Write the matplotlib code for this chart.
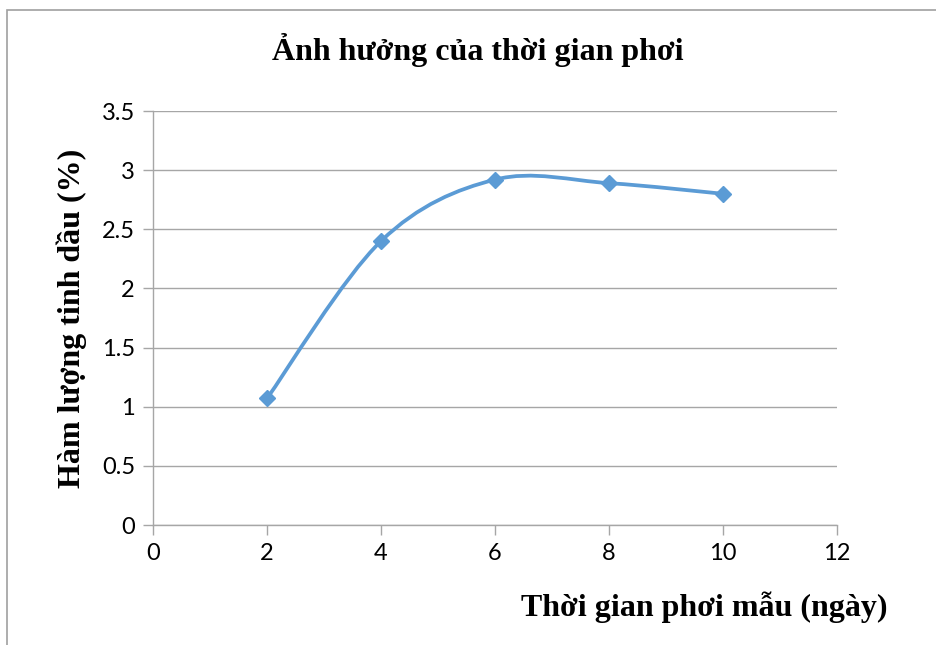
import matplotlib
matplotlib.use("Agg")
import matplotlib.pyplot as plt
from matplotlib.path import Path
from matplotlib.patches import PathPatch, Rectangle
import numpy as np

days = [2, 4, 6, 8, 10]
oil_content = [1.07, 2.40, 2.92, 2.89, 2.80]
x_ticks = [0, 2, 4, 6, 8, 10, 12]
y_ticks = [0, 0.5, 1, 1.5, 2, 2.5, 3, 3.5]
y_tick_labels = ["0", "0.5", "1", "1.5", "2", "2.5", "3", "3.5"]

title = "Ảnh hưởng của thời gian phơi"
xlabel = "Thời gian phơi mẫu (ngày)"
ylabel = "Hàm lượng tinh dầu (%)"

color = "#5B9BD5"
grid_color = "#A6A6A6"

fig = plt.figure(figsize=(9.37, 6.45), dpi=100)
ax = fig.add_axes([153/937, 1 - 525/645, (837-153)/937, (525-111)/645])

# smoothed line (Catmull-Rom style Bezier, like Excel smoothing)
P = np.column_stack([days, oil_content]).astype(float)
verts = [tuple(P[0])]
codes = [Path.MOVETO]
n = len(P)
for i in range(n - 1):
    p0 = P[i - 1] if i > 0 else P[i]
    p1 = P[i]
    p2 = P[i + 1]
    p3 = P[i + 2] if i + 2 < n else P[i + 1]
    c1 = p1 + (p2 - p0) / 6.0
    c2 = p2 - (p3 - p1) / 6.0
    verts += [tuple(c1), tuple(c2), tuple(p2)]
    codes += [Path.CURVE4] * 3
patch = PathPatch(Path(verts, codes), facecolor="none", edgecolor=color, lw=2.7,
                  capstyle="round", joinstyle="round", zorder=3)
ax.add_patch(patch)
ax.plot(days, oil_content, linestyle="none", marker="D", markersize=8.5,
        color=color, zorder=4)

ax.set_xlim(0, 12)
ax.set_ylim(0, 3.5)
ax.set_xticks(x_ticks)
ax.set_yticks(y_ticks)
ax.set_yticklabels(y_tick_labels)

ax.grid(axis="y", color=grid_color, lw=1.0)
ax.set_axisbelow(True)
for s in ["top", "right"]:
    ax.spines[s].set_visible(False)
for s in ["left", "bottom"]:
    ax.spines[s].set_color(grid_color)
    ax.spines[s].set_linewidth(1.0)
ax.tick_params(axis="both", direction="out", length=7, width=1.0,
               color=grid_color, labelsize=17, pad=6)
for lab in ax.get_xticklabels() + ax.get_yticklabels():
    lab.set_fontfamily("Lato")

serif = ["Liberation Serif", "DejaVu Serif"]
fig.text(478/937, 1 - 50/645, title, ha="center", va="center",
         fontsize=23, fontweight="bold", family=serif)
fig.text(704/937, 1 - 607/645, xlabel, ha="center", va="center",
         fontsize=23, fontweight="bold", family=serif)
fig.text(72/937, 1 - 318/645, ylabel, ha="center", va="center", rotation=90,
         fontsize=23, fontweight="bold", family=serif)

# chart area border (cropped at right and bottom)
fig.add_artist(Rectangle((7/937, -0.1), 1.2, 1 - 10/645 + 0.1,
                         transform=fig.transFigure, fill=False,
                         edgecolor="#A0A0A0", lw=1.2))

fig.savefig("out.png", dpi=100, facecolor="white")
